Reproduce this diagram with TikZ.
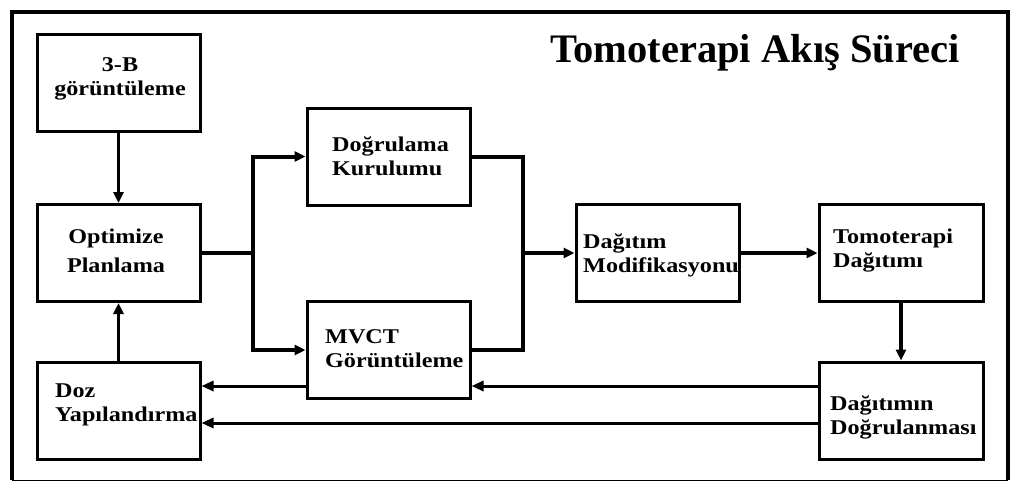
\documentclass[tikz,border=0pt]{standalone}
\usepackage{fontspec}
\setmainfont{Liberation Serif}[FakeStretch=1.15]
\newfontfamily\ttlfont{Liberation Serif}
\usetikzlibrary{arrows.meta}
\begin{document}
\begin{tikzpicture}[x=1pt,y=-1pt,
  box/.style={draw, line width=3pt, minimum width=163pt, minimum height=97pt, inner sep=0pt},
  txtl/.style={inner sep=0pt, font=\bfseries\fontsize{21}{24}\selectfont, text width=160pt, align=left, anchor=base west},
  txtc/.style={inner sep=0pt, font=\bfseries\fontsize{21}{24}\selectfont, text width=160pt, align=center, anchor=base},
  arr/.style={line width=3.5pt, -{Triangle[length=11pt,width=10pt]}},
  arrthin/.style={line width=3pt, -{Triangle[length=12pt,width=10pt]}},
  trunk/.style={line width=4pt}]
\useasboundingbox (0,0) rectangle (1019,482);
% outer frame
\draw[line width=4.5pt] (12,480) -- (12,12) -- (1008,12) -- (1008,480);
\draw[line width=1.5pt] (12,480.5) -- (1008,480.5);
% title
\node[anchor=base west, inner sep=0pt, font=\ttlfont\bfseries\fontsize{40.5}{44}\selectfont] (title) at (550,62) {Tomoterapi Akış Süreci};
% boxes
\node[box] (b3d) at (118.5,83) {};
\node[box] (opt) at (118.5,253) {};
\node[box] (doz) at (118.5,410.5) {};
\node[box] (dog) at (388.5,156.5) {};
\node[box] (mvct) at (388.5,350) {};
\node[box] (mod) at (657.5,253) {};
\node[box, minimum width=164pt] (tomo) at (901,253) {};
\node[box, minimum width=164pt] (ddog) at (901,410.5) {};
% texts
\node[txtc] (b3dT) at (120,71) {3-B\\görüntüleme};
\node[txtc, font=\bfseries\fontsize{21}{29}\selectfont] (optT) at (116,243) {Optimize\\Planlama};
\node[txtl] (dozT) at (55,397) {Doz\\Yapılandırma};
\node[txtl] (dogT) at (332,151) {Doğrulama\\Kurulumu};
\node[txtl] (mvctT) at (325,343) {MVCT\\Görüntüleme};
\node[txtl] (modT) at (583,248) {Dağıtım\\Modifikasyonu};
\node[txtl] (tomoT) at (833,243) {Tomoterapi\\Dağıtımı};
\node[txtl] (ddogT) at (830,410) {Dağıtımın\\Doğrulanması};
% branch points
\coordinate (br1) at (253,253);
\coordinate (br2) at (523,253);
% connectors
\draw[arr] (b3d) -- (opt);
\draw[arr] (doz) -- (opt);
\draw[trunk] (opt.east) -- (br1);
\draw[arr, line width=4pt] (br1) |- (dog.west);
\draw[arr, line width=4pt] (br1) |- (mvct.west);
\draw[trunk] (dog.east) -| (br2);
\draw[trunk] (mvct.east) -| (br2);
\draw[arr, line width=4pt] (br2) -- (mod.west);
\draw[arr, line width=4pt] (mod) -- (tomo);
\draw[arr] (tomo) -- (ddog);
\draw[arrthin] (ddog.west |- 0,386) -- (mvct.east |- 0,386);
\draw[arrthin] (mvct.west |- 0,386) -- (doz.east |- 0,386);
\draw[arrthin] (ddog.west |- 0,423) -- (doz.east |- 0,423);
\end{tikzpicture}
\end{document}
